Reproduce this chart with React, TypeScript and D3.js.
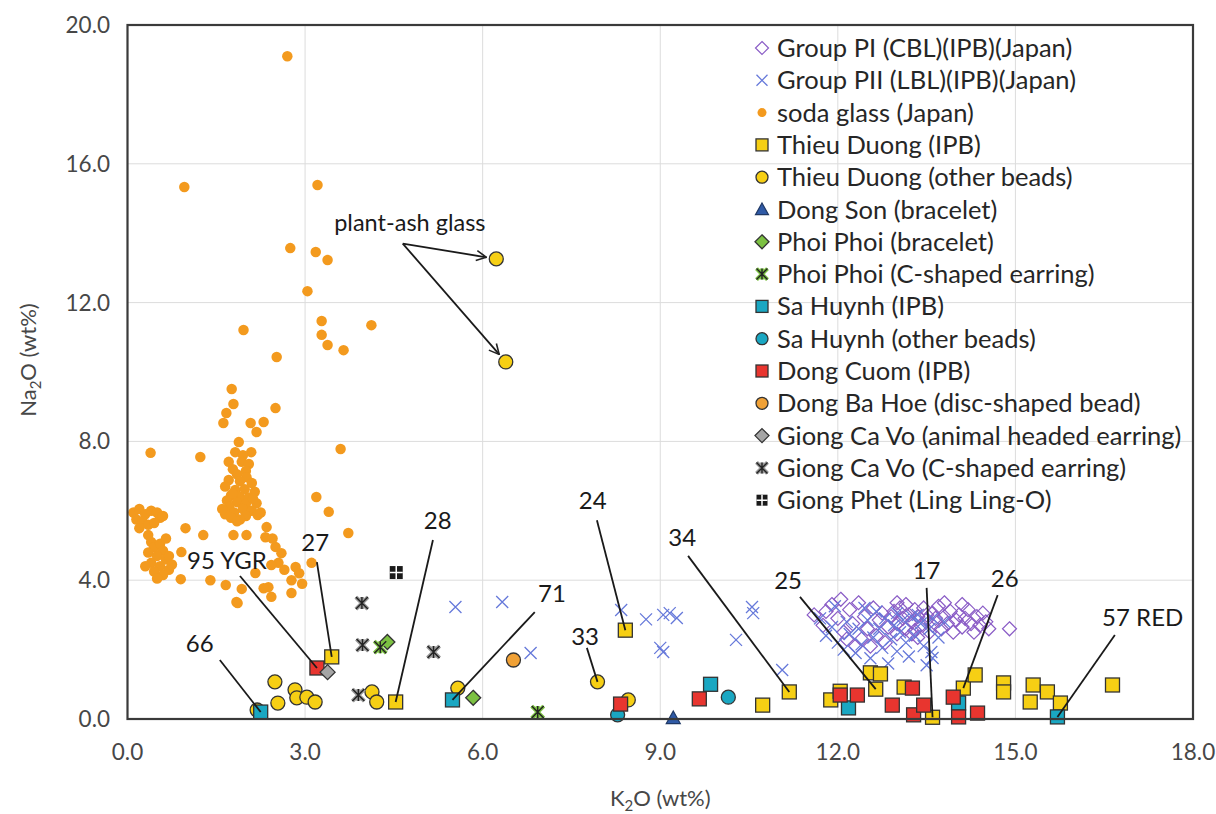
import React, { Component } from 'react';
import * as d3 from 'd3';

type Pt = [number, number];

// K2O (wt%), Na2O (wt%)
const groupPI: Pt[] = [
  [11.6, 3.0], [11.75, 2.7], [11.9, 3.3], [12.0, 2.9], [12.05, 3.45], [12.1, 2.5], [12.2, 3.15], [12.25, 2.75],
  [12.35, 3.35], [12.4, 2.3], [12.45, 2.95], [12.5, 2.6], [12.6, 3.2], [12.65, 2.4], [12.7, 2.85], [12.75, 3.05],
  [12.8, 2.2], [12.85, 2.65], [12.9, 2.95], [12.95, 3.1], [13.0, 2.75], [13.0, 2.45], [13.05, 3.2], [13.1, 2.9],
  [13.15, 2.6], [13.2, 3.0], [13.25, 2.8], [13.3, 3.15], [13.3, 2.55], [13.35, 2.95], [13.4, 2.7], [13.45, 3.2],
  [13.5, 2.85], [13.55, 2.5], [13.6, 3.05], [13.6, 2.7], [13.65, 2.9], [13.7, 3.25], [13.75, 2.6], [13.8, 2.95],
  [13.85, 2.75], [13.9, 3.1], [13.95, 2.5], [14.0, 2.85], [14.05, 3.0], [14.1, 2.65], [14.15, 2.9], [14.2, 3.15],
  [14.25, 2.75], [14.3, 2.5], [14.35, 2.95], [14.4, 2.7], [14.45, 3.05], [14.5, 2.8], [14.55, 2.6], [14.9, 2.6],
  [13.15, 3.3], [13.35, 2.35], [12.55, 2.1], [13.8, 3.35], [14.1, 3.3], [13.0, 3.35], [12.3, 2.1], [13.5, 3.0],
  [13.25, 2.45], [11.8, 3.1], [12.15, 2.3]
];

const groupPII: Pt[] = [
  [5.54, 3.23], [6.33, 3.37], [6.81, 1.9], [8.34, 3.14], [8.76, 2.87], [9.05, 3.0], [9.16, 3.05], [9.28, 2.91],
  [9.0, 2.05], [9.05, 1.93], [10.55, 3.23], [10.57, 3.05], [10.28, 2.28], [11.06, 1.41],
  [11.7, 2.9], [11.8, 2.4], [11.9, 2.65], [12.0, 2.2], [12.1, 2.0], [12.15, 2.8], [12.2, 2.45], [12.3, 1.9],
  [12.35, 2.6], [12.4, 2.15], [12.5, 2.85], [12.55, 1.75], [12.6, 2.35], [12.7, 2.6], [12.75, 2.05], [12.8, 2.9],
  [12.85, 1.6], [12.9, 2.3], [12.95, 2.7], [13.0, 1.95], [13.05, 2.5], [13.1, 2.85], [13.15, 2.2], [13.2, 1.8],
  [13.25, 2.95], [13.3, 2.4], [13.4, 2.75], [13.45, 2.1], [13.5, 1.55], [13.55, 2.6], [13.6, 1.76], [13.58, 1.93],
  [13.6, 2.9], [13.7, 2.35], [13.8, 2.8], [12.65, 3.1], [12.45, 3.2], [11.95, 3.25], [13.0, 3.05], [13.35, 3.0]
];

const sodaGlass: Pt[] = [
  [2.7, 19.1], [0.96, 15.33], [3.21, 15.39], [2.75, 13.57], [3.18, 13.46], [3.38, 13.23], [3.04, 12.33],
  [3.28, 11.47], [3.28, 11.07], [3.38, 10.78], [3.65, 10.63], [4.12, 11.35], [1.96, 11.21], [2.52, 10.43],
  [1.76, 9.51], [1.79, 9.08], [1.67, 8.82], [1.62, 8.53], [2.5, 8.96], [2.08, 8.53], [2.3, 8.56], [2.18, 8.27],
  [0.39, 7.67], [1.23, 7.55], [3.6, 7.78],
  [1.88, 7.98], [1.82, 7.69], [2.09, 7.69], [1.95, 7.6], [1.71, 7.41], [1.93, 7.41], [2.05, 7.35], [1.78, 7.2],
  [2.0, 7.15], [1.85, 7.05], [2.01, 6.97], [1.71, 6.89], [1.9, 6.85], [2.1, 6.8], [1.65, 6.7], [1.82, 6.6],
  [1.98, 6.62], [2.15, 6.55], [1.75, 6.45], [1.9, 6.4], [2.05, 6.38], [1.68, 6.3], [1.85, 6.25], [2.0, 6.2],
  [2.18, 6.22], [1.72, 6.12], [1.95, 6.05], [2.1, 6.0], [1.8, 5.95], [1.65, 5.9], [2.0, 5.85], [2.2, 5.88],
  [1.75, 5.8], [1.9, 5.75], [2.25, 5.95], [1.6, 6.05], [1.78, 6.5], [2.12, 6.35], [1.85, 5.7],
  [0.1, 5.95], [0.2, 6.05], [0.3, 5.9], [0.4, 6.0], [0.5, 5.95], [0.55, 5.8], [0.15, 5.75], [0.25, 5.7],
  [0.35, 5.6], [0.45, 5.65], [0.6, 5.85], [0.2, 5.5], [0.35, 5.3], [0.4, 5.1], [0.45, 4.95], [0.55, 5.05],
  [0.6, 4.85], [0.35, 4.8], [0.5, 4.7], [0.65, 4.6], [0.4, 4.5], [0.55, 4.4], [0.7, 4.3], [0.45, 4.25],
  [0.6, 4.15], [0.75, 4.45], [0.3, 4.4], [0.5, 4.05], [0.7, 4.7], [0.65, 5.2],
  [0.98, 5.5], [1.28, 5.3], [0.91, 4.81], [0.9, 4.03], [1.66, 3.86], [1.84, 3.37], [1.93, 3.75], [2.16, 4.21],
  [1.79, 5.3], [2.01, 5.3], [2.35, 5.53], [2.33, 5.24], [2.5, 4.96], [2.6, 4.78], [2.55, 4.5], [2.43, 4.44],
  [2.84, 4.38], [2.77, 4.0], [2.77, 3.63], [2.38, 3.8], [2.43, 3.52], [3.11, 4.5], [3.19, 6.4], [3.4, 5.97],
  [3.73, 5.36], [2.3, 3.77], [1.86, 3.34], [2.9, 4.2], [2.95, 3.9], [1.4, 4.0], [2.45, 5.2], [2.65, 4.3]
];

const thieuDuongIPB: Pt[] = [
  [3.45, 1.79], [4.53, 0.49], [8.41, 2.56], [11.18, 0.78], [10.73, 0.4], [11.88, 0.55], [12.04, 0.8],
  [12.55, 1.33], [12.72, 1.3], [12.64, 0.86], [13.12, 0.92], [13.6, 0.05], [14.12, 0.89], [14.32, 1.27],
  [14.8, 1.04], [14.8, 0.78], [15.3, 0.98], [15.25, 0.49], [15.54, 0.78], [15.76, 0.46], [16.64, 0.98]
];
const thieuDuongOther: Pt[] = [
  [6.23, 13.26], [6.39, 10.29], [2.49, 1.07], [2.54, 0.46], [2.83, 0.84], [2.86, 0.61], [3.03, 0.63],
  [3.17, 0.49], [2.19, 0.26], [4.13, 0.78], [4.21, 0.49], [5.58, 0.89], [7.94, 1.07], [8.46, 0.55]
];
const dongSon: Pt[] = [[9.22, 0.03]];
const phoiPhoiBracelet: Pt[] = [[4.39, 2.22], [5.84, 0.61]];
const phoiPhoiEarring: Pt[] = [[4.27, 2.07], [6.93, 0.2]];
const saHuynhIPB: Pt[] = [[2.25, 0.2], [5.49, 0.55], [9.85, 1.0], [12.18, 0.32], [14.04, 0.46], [15.71, 0.06]];
const saHuynhOther: Pt[] = [[8.28, 0.12], [10.15, 0.63]];
const dongCuomIPB: Pt[] = [
  [3.2, 1.47], [8.33, 0.43], [9.66, 0.58], [12.04, 0.69], [12.33, 0.69], [12.92, 0.4], [13.26, 0.89],
  [13.28, 0.12], [13.45, 0.4], [13.95, 0.63], [14.04, 0.06], [14.36, 0.17]
];
const dongBaHoe: Pt[] = [[6.52, 1.7]];
const giongCaVoAnimal: Pt[] = [[3.38, 1.35]];
const giongCaVoEarring: Pt[] = [[3.96, 3.34], [3.97, 2.13], [5.17, 1.93], [3.9, 0.69]];
const giongPhet: Pt[] = [[4.54, 4.22]];

const xTicks = [0, 3, 6, 9, 12, 15, 18];
const yTicks = [0, 4, 8, 12, 16, 20];

// sample labels: label centre, leader start, target point
const callouts = [
  { text: '66', at: [1.22, 2.19], from: [1.56, 1.7], to: [2.25, 0.2] },
  { text: '95 YGR', at: [1.68, 4.58], from: [1.9, 4.12], to: [3.2, 1.47] },
  { text: '27', at: [3.17, 5.1], from: [3.2, 4.52], to: [3.45, 1.79] },
  { text: '28', at: [5.24, 5.73], from: [5.16, 5.16], to: [4.53, 0.49] },
  { text: '71', at: [7.17, 3.63], from: [6.88, 3.08], to: [5.49, 0.55] },
  { text: '24', at: [7.86, 6.31], from: [7.93, 5.73], to: [8.41, 2.56] },
  { text: '33', at: [7.73, 2.39], from: [7.76, 2.05], to: [7.94, 1.07] },
  { text: '34', at: [9.37, 5.24], from: [9.47, 4.7], to: [11.18, 0.78] },
  { text: '25', at: [11.16, 4.0], from: [11.36, 3.52], to: [12.64, 0.86] },
  { text: '17', at: [13.5, 4.29], from: [13.5, 3.78], to: [13.6, 0.05] },
  { text: '26', at: [14.82, 4.06], from: [14.7, 3.57], to: [14.12, 0.89] },
  { text: '57 RED', at: [17.15, 2.94], from: [16.68, 2.42], to: [15.71, 0.06] }
];

const plantAsh = { text: 'plant-ash glass', at: [4.77, 14.3], from: [4.65, 13.7], to: [[6.23, 13.26], [6.39, 10.29]] };

const series = [
  { name: 'Group PI (CBL)(IPB)(Japan)', data: groupPI, shape: 'odiamond', fill: 'none', stroke: '#8a5cc6' },
  { name: 'Group PII (LBL)(IPB)(Japan)', data: groupPII, shape: 'cross', fill: 'none', stroke: '#6679da' },
  { name: 'soda glass (Japan)', data: sodaGlass, shape: 'dot', fill: '#f39a1e', stroke: 'none' },
  { name: 'Thieu Duong (IPB)', data: thieuDuongIPB, shape: 'square', fill: '#f6cf14', stroke: '#333' },
  { name: 'Thieu Duong (other beads)', data: thieuDuongOther, shape: 'circle', fill: '#f6cf14', stroke: '#333' },
  { name: 'Dong Son (bracelet)', data: dongSon, shape: 'triangle', fill: '#2f5aa6', stroke: '#1f3864' },
  { name: 'Phoi Phoi (bracelet)', data: phoiPhoiBracelet, shape: 'diamond', fill: '#7cc142', stroke: '#333' },
  { name: 'Phoi Phoi (C-shaped earring)', data: phoiPhoiEarring, shape: 'star', fill: '#7cc142', stroke: '#222' },
  { name: 'Sa Huynh (IPB)', data: saHuynhIPB, shape: 'square', fill: '#1aa7c2', stroke: '#333' },
  { name: 'Sa Huynh (other beads)', data: saHuynhOther, shape: 'circle', fill: '#1aa7c2', stroke: '#333' },
  { name: 'Dong Cuom (IPB)', data: dongCuomIPB, shape: 'square', fill: '#e8352f', stroke: '#333' },
  { name: 'Dong Ba Hoe (disc-shaped bead)', data: dongBaHoe, shape: 'circle', fill: '#f0a136', stroke: '#333' },
  { name: 'Giong Ca Vo (animal headed earring)', data: giongCaVoAnimal, shape: 'diamond', fill: '#a5a5a5', stroke: '#333' },
  { name: 'Giong Ca Vo (C-shaped earring)', data: giongCaVoEarring, shape: 'star', fill: '#999', stroke: '#222' },
  { name: 'Giong Phet (Ling Ling-O)', data: giongPhet, shape: 'grid', fill: '#1a1a1a', stroke: '#1a1a1a' }
];

const FONT = 'Lato, "Open Sans", sans-serif';

function addMarker(g: any, shape: string, x: number, y: number, s: number, fill: string, stroke: string) {
  const h = s / 2;
  if (shape === 'square') {
    g.append('rect').attr('x', x - h).attr('y', y - h).attr('width', s).attr('height', s)
      .attr('fill', fill).attr('stroke', stroke).attr('stroke-width', 1.3);
  } else if (shape === 'circle') {
    g.append('circle').attr('cx', x).attr('cy', y).attr('r', h)
      .attr('fill', fill).attr('stroke', stroke).attr('stroke-width', 1.3);
  } else if (shape === 'dot') {
    g.append('circle').attr('cx', x).attr('cy', y).attr('r', h).attr('fill', fill);
  } else if (shape === 'diamond' || shape === 'odiamond') {
    g.append('path').attr('d', `M${x},${y - h}L${x + h},${y}L${x},${y + h}L${x - h},${y}Z`)
      .attr('fill', fill).attr('stroke', stroke).attr('stroke-width', shape === 'odiamond' ? 1.2 : 1.3);
  } else if (shape === 'triangle') {
    g.append('path').attr('d', `M${x},${y - h}L${x + h},${y + h * 0.8}L${x - h},${y + h * 0.8}Z`)
      .attr('fill', fill).attr('stroke', stroke).attr('stroke-width', 1.2);
  } else if (shape === 'cross') {
    g.append('path').attr('d', `M${x - h},${y - h}L${x + h},${y + h}M${x - h},${y + h}L${x + h},${y - h}`)
      .attr('stroke', stroke).attr('stroke-width', 1.3).attr('fill', 'none');
  } else if (shape === 'star') {
    const d = `M${x - h},${y - h}L${x + h},${y + h}M${x - h},${y + h}L${x + h},${y - h}M${x},${y - h}L${x},${y + h}`;
    g.append('path').attr('d', d).attr('stroke', fill).attr('stroke-width', 4).attr('fill', 'none');
    g.append('path').attr('d', d).attr('stroke', stroke).attr('stroke-width', 1.4).attr('fill', 'none');
  } else if (shape === 'grid') {
    g.append('rect').attr('x', x - h).attr('y', y - h).attr('width', s).attr('height', s).attr('fill', fill);
    g.append('path').attr('d', `M${x},${y - h}L${x},${y + h}M${x - h},${y}L${x + h},${y}`)
      .attr('stroke', '#fff').attr('stroke-width', 1.5);
  }
}

const markerSize: Record<string, number> = {
  square: 14, circle: 14, dot: 10.5, diamond: 15, odiamond: 14, triangle: 14, cross: 12, star: 12, grid: 13
};
const legendSize: Record<string, number> = {
  square: 12, circle: 12, dot: 9, diamond: 14, odiamond: 13, triangle: 13, cross: 11, star: 11, grid: 11
};

class App extends Component {
  ref = React.createRef<SVGSVGElement>();

  componentDidMount() {
    this.draw();
  }

  draw = () => {
    const svg = d3.select(this.ref.current);
    svg.selectAll('*').remove();

    const x = d3.scaleLinear().domain([0, 18]).range([127.5, 1193]);
    const y = d3.scaleLinear().domain([0, 20]).range([719, 25]);

    svg.append('defs').append('marker')
      .attr('id', 'arrow').attr('viewBox', '0 0 12 12').attr('refX', 11).attr('refY', 6)
      .attr('markerWidth', 12).attr('markerHeight', 12).attr('markerUnits', 'userSpaceOnUse')
      .attr('orient', 'auto')
      .append('path').attr('d', 'M1,1L11,6L1,11').attr('fill', 'none').attr('stroke', '#222').attr('stroke-width', 1.6);

    // grid
    const grid = svg.append('g');
    xTicks.slice(1, -1).forEach(t => {
      grid.append('line').attr('x1', x(t)).attr('x2', x(t)).attr('y1', y(0)).attr('y2', y(20))
        .attr('stroke', '#dcdcdc').attr('stroke-width', 1);
    });
    yTicks.slice(1, -1).forEach(t => {
      grid.append('line').attr('x1', x(0)).attr('x2', x(18)).attr('y1', y(t)).attr('y2', y(t))
        .attr('stroke', '#dcdcdc').attr('stroke-width', 1);
    });

    // tick labels
    xTicks.forEach(t => {
      svg.append('text').attr('x', x(t)).attr('y', 760).attr('text-anchor', 'middle')
        .style('font-family', FONT).style('font-size', '22.5px').style('fill', '#474747')
        .text(t.toFixed(1));
    });
    yTicks.forEach(t => {
      svg.append('text').attr('x', 110).attr('y', y(t) + 8).attr('text-anchor', 'end')
        .style('font-family', FONT).style('font-size', '22.5px').style('fill', '#474747')
        .text(t.toFixed(1));
    });

    // axis titles
    const xt = svg.append('text').attr('x', x(9)).attr('y', 806).attr('text-anchor', 'middle')
      .style('font-family', FONT).style('font-size', '22px').style('fill', '#474747');
    xt.append('tspan').text('K');
    xt.append('tspan').attr('dy', 5).style('font-size', '15px').text('2');
    xt.append('tspan').attr('dy', -5).text('O (wt%)');

    const yt = svg.append('text').attr('transform', 'translate(36,360) rotate(-90)').attr('text-anchor', 'middle')
      .style('font-family', FONT).style('font-size', '22px').style('fill', '#474747');
    yt.append('tspan').text('Na');
    yt.append('tspan').attr('dy', 5).style('font-size', '15px').text('2');
    yt.append('tspan').attr('dy', -5).text('O (wt%)');

    // points
    series.forEach(s => {
      const g = svg.append('g');
      s.data.forEach(d => addMarker(g, s.shape, x(d[0]), y(d[1]), markerSize[s.shape], s.fill, s.stroke));
    });

    // leader lines and labels
    callouts.forEach(c => {
      svg.append('line').attr('x1', x(c.from[0])).attr('y1', y(c.from[1]))
        .attr('x2', x(c.to[0])).attr('y2', y(c.to[1]))
        .attr('stroke', '#1a1a1a').attr('stroke-width', 1.8);
      svg.append('text').attr('x', x(c.at[0])).attr('y', y(c.at[1]) + 9).attr('text-anchor', 'middle')
        .style('font-family', FONT).style('font-size', '24px').style('fill', '#1a1a1a')
        .text(c.text);
    });

    svg.append('text').attr('x', x(plantAsh.at[0])).attr('y', y(plantAsh.at[1]) + 8).attr('text-anchor', 'middle')
      .style('font-family', FONT).style('font-size', '23.5px').style('fill', '#1a1a1a')
      .text(plantAsh.text);
    plantAsh.to.forEach(t => {
      const x1 = x(plantAsh.from[0]), y1 = y(plantAsh.from[1]);
      const x2 = x(t[0]), y2 = y(t[1]);
      const len = Math.hypot(x2 - x1, y2 - y1);
      const k = (len - 10) / len;
      svg.append('line').attr('x1', x1).attr('y1', y1)
        .attr('x2', x1 + (x2 - x1) * k).attr('y2', y1 + (y2 - y1) * k)
        .attr('stroke', '#1a1a1a').attr('stroke-width', 1.8).attr('marker-end', 'url(#arrow)');
    });

    // plot border
    svg.append('rect').attr('x', x(0)).attr('y', y(20)).attr('width', x(18) - x(0)).attr('height', y(0) - y(20))
      .attr('fill', 'none').attr('stroke', '#3a3a3a').attr('stroke-width', 2.2);

    // legend
    const leg = svg.append('g');
    series.forEach((s, i) => {
      const ly = 48 + i * 32.3;
      addMarker(leg, s.shape, 762, ly, legendSize[s.shape], s.fill, s.stroke);
      leg.append('text').attr('x', 777).attr('y', ly + 9)
        .style('font-family', FONT).style('font-size', '25.5px').style('fill', '#262626')
        .text(s.name);
    });
  };

  render() {
    return (
      <svg ref={this.ref} width={1216} height={814}
        style={{ position: 'absolute', left: 0, top: 0, background: '#fff' }} />
    );
  }
}

export default App;
